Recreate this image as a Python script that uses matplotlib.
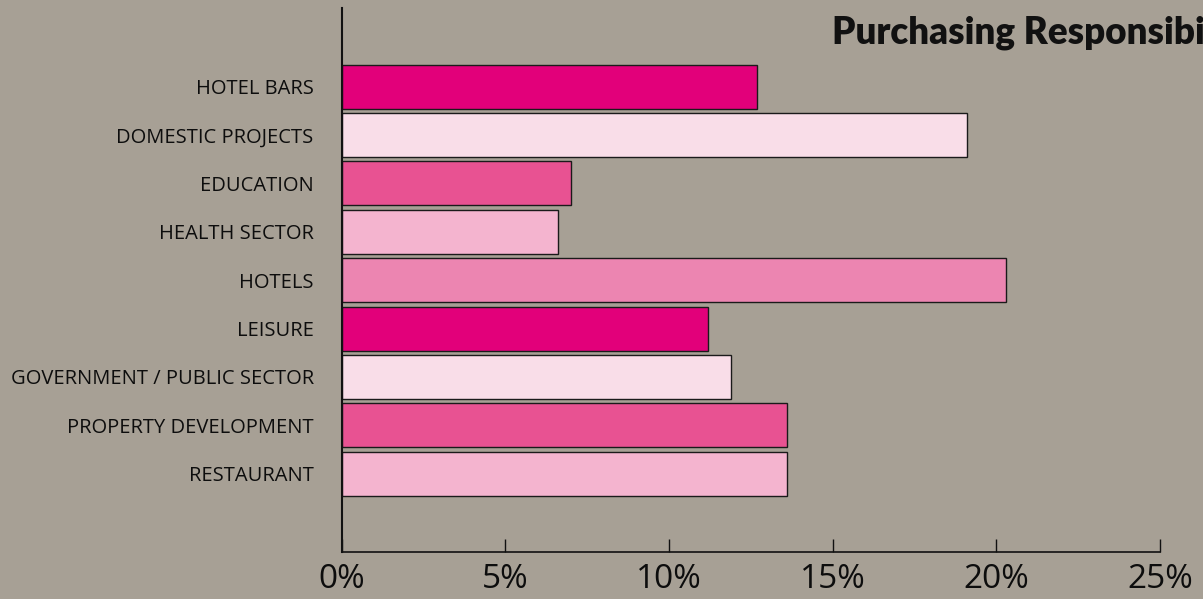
import matplotlib.pyplot as plt

# Purchasing responsibility by sector (% of respondents)
sectors = ['HOTEL BARS', 'DOMESTIC PROJECTS', 'EDUCATION', 'HEALTH SECTOR', 'HOTELS',
           'LEISURE', 'GOVERNMENT / PUBLIC SECTOR', 'PROPERTY DEVELOPMENT', 'RESTAURANT']
shares = [12.7, 19.1, 7.0, 6.6, 20.3, 11.2, 11.9, 13.6, 13.6]
bar_colors = ['#e2007a', '#f9dde8', '#e85292', '#f4b4cf', '#ec85b1',
              '#e2007a', '#f9dde8', '#e85292', '#f4b4cf']
xticks = [0, 5, 10, 15, 20, 25]
xtick_labels = ['0%', '5%', '10%', '15%', '20%', '25%']
title = 'Purchasing Responsibi'

bg = '#a7a095'

fig = plt.figure(figsize=(12.03, 5.99), dpi=100, facecolor=bg)
ax = fig.add_axes([341.5 / 1203, 47 / 599, (1160 - 341.5) / 1203, (552 - 8.3) / 599])
ax.set_facecolor(bg)

ypos = list(range(len(sectors)))
ax.barh(ypos, shares, height=0.91, color=bar_colors, edgecolor='#1a1a1a', linewidth=1.0)

ax.set_xlim(0, 25)
ax.set_ylim(len(sectors) - 1 + 1.62, -1.62)

ax.set_yticks(ypos)
ax.set_yticklabels(sectors, fontfamily='Open Sans', fontsize=14.5, color='#0d0d0d')
ax.tick_params(axis='y', length=0, pad=20)

ax.set_xticks(xticks)
ax.set_xticklabels(xtick_labels, fontfamily='Open Sans', fontsize=24, color='#0d0d0d')
ax.tick_params(axis='x', direction='in', length=9.5, width=1.0, pad=8, color='#111111')

for side in ['top', 'right']:
    ax.spines[side].set_visible(False)
ax.spines['left'].set_linewidth(1.5)
ax.spines['bottom'].set_linewidth(1.2)
ax.spines['left'].set_color('#111111')
ax.spines['bottom'].set_color('#111111')

fig.text(832 / 1203, 1 - 43.5 / 599, title, fontfamily='Lato',
         fontweight='heavy', fontsize=26.5, color='#111111', ha='left', va='baseline')

fig.savefig('out.png', dpi=100, facecolor=bg)
